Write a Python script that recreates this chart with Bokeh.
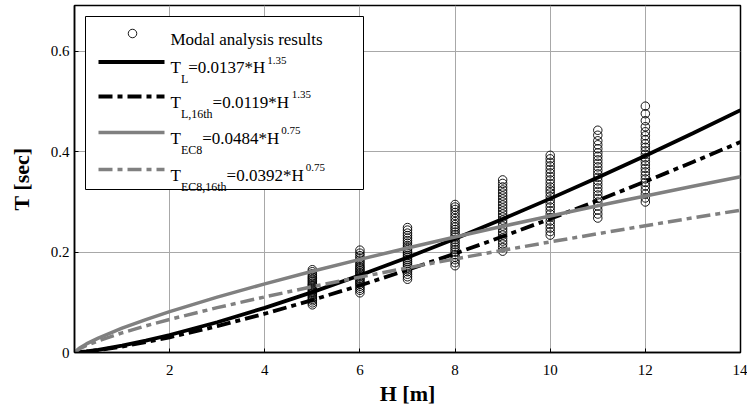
from bokeh.plotting import figure
from bokeh.models import Range1d, FixedTicker
from bokeh.core.properties import value
from bokeh.embed import file_html
from bokeh.resources import INLINE

# ---------------- data ----------------
storey_heights = [5, 6, 7, 8, 9, 10, 11, 12]

T_modal_5 = [0.095, 0.099, 0.103, 0.106, 0.109, 0.112, 0.115, 0.118, 0.120, 0.123, 0.125, 0.128,
             0.130, 0.133, 0.135, 0.138, 0.141, 0.144, 0.147, 0.150, 0.153, 0.157, 0.161, 0.165]
T_modal_6 = [0.119, 0.124, 0.128, 0.132, 0.136, 0.139, 0.142, 0.145, 0.148, 0.151, 0.154, 0.157,
             0.160, 0.163, 0.166, 0.169, 0.172, 0.176, 0.180, 0.184, 0.188, 0.193, 0.198, 0.204]
T_modal_7 = [0.146, 0.151, 0.156, 0.161, 0.165, 0.169, 0.173, 0.177, 0.181, 0.185, 0.189, 0.193,
             0.197, 0.201, 0.205, 0.209, 0.213, 0.218, 0.223, 0.228, 0.233, 0.238, 0.244, 0.249]
T_modal_8 = [0.173, 0.179, 0.185, 0.190, 0.195, 0.200, 0.205, 0.210, 0.215, 0.220, 0.225, 0.230,
             0.235, 0.240, 0.245, 0.250, 0.255, 0.261, 0.267, 0.273, 0.279, 0.285, 0.290, 0.295]
T_modal_9 = [0.202, 0.209, 0.216, 0.222, 0.228, 0.234, 0.240, 0.246, 0.252, 0.258, 0.264, 0.270,
             0.276, 0.282, 0.288, 0.294, 0.300, 0.306, 0.312, 0.318, 0.324, 0.330, 0.337, 0.344]
T_modal_10 = [0.234, 0.241, 0.248, 0.255, 0.262, 0.269, 0.276, 0.283, 0.290, 0.297, 0.304, 0.311,
              0.318, 0.324, 0.330, 0.337, 0.344, 0.351, 0.358, 0.365, 0.372, 0.379, 0.386, 0.393]
T_modal_11 = [0.268, 0.276, 0.284, 0.292, 0.300, 0.307, 0.314, 0.321, 0.328, 0.335, 0.342, 0.349,
              0.356, 0.363, 0.370, 0.377, 0.384, 0.391, 0.398, 0.406, 0.414, 0.422, 0.433, 0.443]
T_modal_12 = [0.300, 0.308, 0.316, 0.324, 0.332, 0.339, 0.346, 0.353, 0.360, 0.367, 0.374, 0.381,
              0.388, 0.395, 0.402, 0.409, 0.416, 0.424, 0.432, 0.440, 0.450, 0.462, 0.476, 0.491]

curve_H = [0, 0.1, 0.25, 0.5, 1, 1.5, 2, 3, 4, 5, 6, 7, 8, 9, 10, 11, 12, 13, 14]
T_L_curve = [0, 0.00061, 0.00211, 0.00537, 0.0137, 0.02368, 0.03492, 0.06037, 0.08902, 0.12031,
             0.15391, 0.18950, 0.22694, 0.26605, 0.30670, 0.34887, 0.39229, 0.43710, 0.48312]
T_L16_curve = [0, 0.00053, 0.00183, 0.00467, 0.0119, 0.02057, 0.03033, 0.05244, 0.07733, 0.10450,
               0.13368, 0.16460, 0.19712, 0.23110, 0.26641, 0.30303, 0.34074, 0.37967, 0.41963]
T_EC8_curve = [0, 0.00861, 0.01711, 0.02878, 0.0484, 0.06560, 0.08140, 0.11033, 0.13689, 0.16184,
               0.18555, 0.20829, 0.23023, 0.25150, 0.27217, 0.29234, 0.31205, 0.33136, 0.35030]
T_EC8_16_curve = [0, 0.00697, 0.01386, 0.02331, 0.0392, 0.05313, 0.06593, 0.08936, 0.11087, 0.13107,
                  0.15028, 0.16870, 0.18647, 0.20369, 0.22044, 0.23677, 0.25274, 0.26837, 0.28371]

x_ticks = [2, 4, 6, 8, 10, 12, 14]
y_ticks = [0, 0.2, 0.4, 0.6]
y_tick_labels = ["0", "0.2", "0.4", "0.6"]

legend_title = "Modal analysis results"
# (main, subscript, rest, superscript)
legend_formulas = [
    ("T", "L", "=0.0137*H", "1.35"),
    ("T", "L,16th", "=0.0119*H", "1.35"),
    ("T", "EC8", "=0.0484*H", "0.75"),
    ("T", "EC8,16th", "=0.0392*H", "0.75"),
]
x_label = "H [m]"
y_label = "T [sec]"

# ---------------- layout / style ----------------
FONT = "Liberation Serif"
FRAME_W, FRAME_H = 666, 347
PX_PER_T = 501.7
X_END = 14
Y_END = FRAME_H / PX_PER_T
FRAME_LEFT, FRAME_TOP = 74, 5    # canvas pixels of the frame's top-left corner
X_PX = FRAME_W / X_END
BLACK, GREY = "black", "#808080"
DASHDOT = "14 5 5 5"

p = figure(frame_width=FRAME_W, frame_height=FRAME_H,
           x_range=Range1d(0, X_END), y_range=Range1d(0, Y_END),
           output_backend="svg", toolbar_location=None,
           min_border_left=FRAME_LEFT, min_border_right=7, min_border_top=FRAME_TOP,
           min_border_bottom=54,
           background_fill_color="white", border_fill_color="white",
           outline_line_color="black", outline_line_width=1.5)

for ax, ticks in ((p.xaxis[0], x_ticks), (p.yaxis[0], y_ticks)):
    ax.ticker = FixedTicker(ticks=ticks)
    ax.major_tick_in = 4
    ax.major_tick_out = 0
    ax.minor_tick_line_color = None
    ax.axis_line_color = "black"
    ax.axis_line_width = 1.5
    ax.major_tick_line_color = "black"
    ax.major_label_text_font = FONT
    ax.major_label_text_font_size = "15px"
    ax.major_label_text_color = "black"
    ax.axis_label_text_font = FONT
    ax.axis_label_text_font_size = "22px"
    ax.axis_label_text_font_style = "bold"
    ax.axis_label_text_color = "black"

p.xaxis.axis_label = x_label
p.yaxis.axis_label = y_label
p.xaxis.major_label_standoff = 12
p.yaxis.major_label_standoff = 5
p.xaxis.axis_label_standoff = 3
p.yaxis.axis_label_standoff = 14
p.yaxis.major_label_overrides = {t: s for t, s in zip(y_ticks, y_tick_labels)}

p.xgrid.ticker = FixedTicker(ticks=x_ticks)
p.ygrid.ticker = FixedTicker(ticks=y_ticks)
p.grid.grid_line_color = "#a8a8a8"
p.grid.grid_line_width = 1

# modal analysis results
modal_columns = [T_modal_5, T_modal_6, T_modal_7, T_modal_8,
                 T_modal_9, T_modal_10, T_modal_11, T_modal_12]
mx, my = [], []
for h, col in zip(storey_heights, modal_columns):
    mx += [h] * len(col)
    my += col
p.scatter(mx, my, marker="circle", size=8.5, fill_color=None, line_color="black", line_width=0.9)

# fitted / code curves
p.line(curve_H, T_L_curve, line_color=BLACK, line_width=3.8)
p.line(curve_H, T_L16_curve, line_color=BLACK, line_width=3.8, line_dash=DASHDOT)
p.line(curve_H, T_EC8_curve, line_color=GREY, line_width=3.5)
p.line(curve_H, T_EC8_16_curve, line_color=GREY, line_width=3.5, line_dash=DASHDOT)

# ---------------- legend (canvas-pixel layout mapped into data space) ----------------
def dx(sx):
    return (sx - FRAME_LEFT) / X_PX

def dy(sy):
    return Y_END - (sy - FRAME_TOP) / PX_PER_T

TIMES_W = {'T': 611, 'L': 611, 'E': 611, 'C': 667, 'H': 722, '=': 564, '*': 500,
           '.': 250, ',': 250, 't': 278, 'h': 500}

def text_w(s, size):
    return sum(TIMES_W.get(c, 500) for c in s) / 1000 * size

p.quad(left=[dx(85)], right=[dx(363)], top=[dy(16)], bottom=[dy(189)],
       fill_color="white", line_color="black", line_width=1)

row_y = [33, 61.5, 96, 132, 169]
SAMPLE_X0, SAMPLE_X1, TEXT_X = 98, 164, 170
MAIN, SUB, SUP = 17, 12, 11

p.scatter([dx(132)], [dy(row_y[0])], marker="circle", size=8.5, fill_color=None,
          line_color="black", line_width=0.9)
styles = [(BLACK, 3.8, "solid"), (BLACK, 3.8, DASHDOT), (GREY, 3.5, "solid"), (GREY, 3.5, DASHDOT)]
for ry, (col, lw, dash) in zip(row_y[1:], styles):
    p.line([dx(SAMPLE_X0), dx(SAMPLE_X1)], [dy(ry), dy(ry)], line_color=col, line_width=lw,
           line_dash=dash)

pieces = {MAIN: ([], [], []), SUB: ([], [], []), SUP: ([], [], [])}
def put(s, sx, sy, size):
    xs, ys, ts = pieces[size]
    xs.append(dx(sx)); ys.append(dy(sy)); ts.append(s)

put(legend_title, TEXT_X, row_y[0] + 5.6, MAIN)
for ry, (main, sub, rest, sup) in zip(row_y[1:], legend_formulas):
    base = ry + 5.6
    x = TEXT_X
    put(main, x, base, MAIN)
    x += text_w(main, MAIN)
    put(sub, x, base + 11.5, SUB)
    x += text_w(sub, SUB)
    put(rest, x, base, MAIN)
    x += text_w(rest, MAIN) + 2
    put(sup, x, base - 7.5, SUP)

for size, (xs, ys, ts) in pieces.items():
    p.text(x=xs, y=ys, text=ts, text_font=value(FONT), text_font_size=value(f"{size}px"),
           text_baseline="alphabetic", text_align="left", text_color="black")

open("out.html", "w").write(file_html(p, INLINE))
